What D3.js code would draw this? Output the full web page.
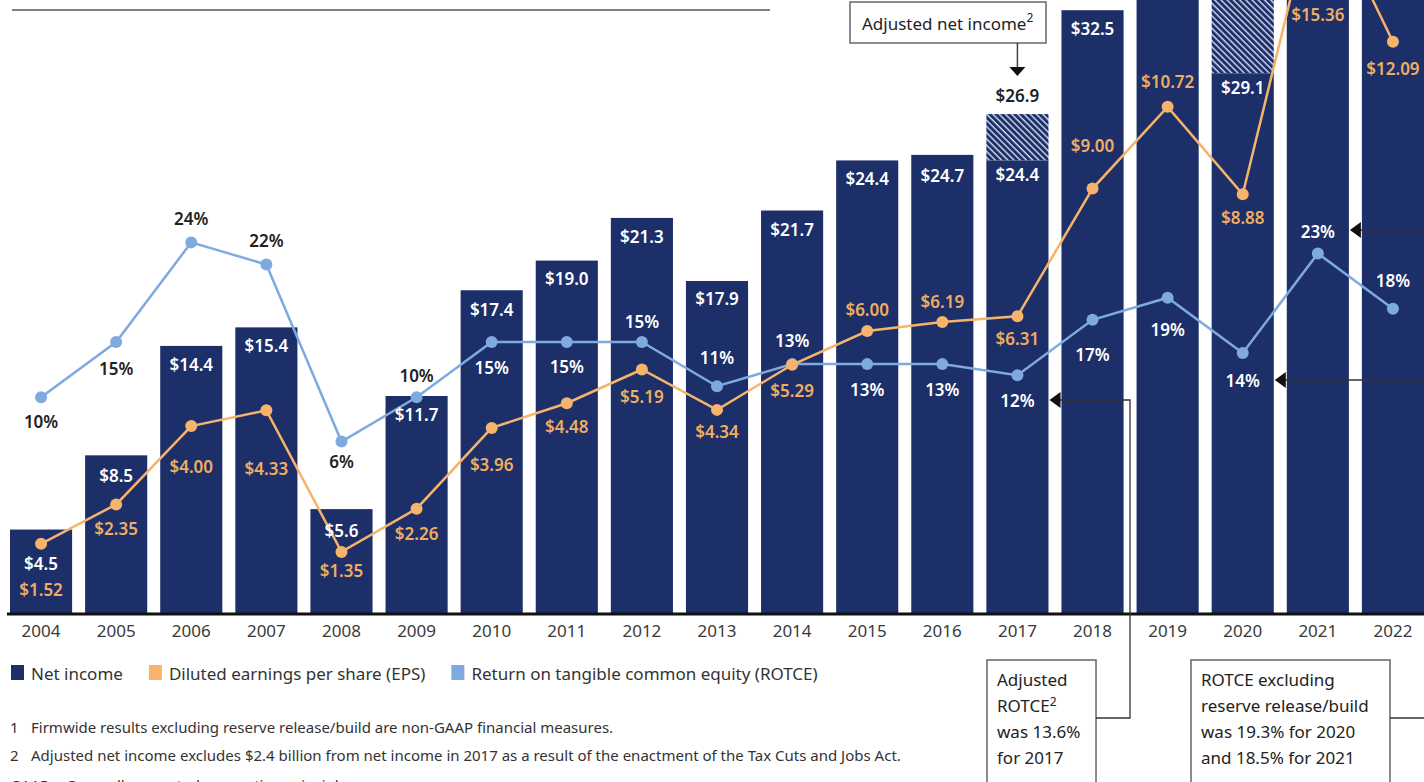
<!DOCTYPE html>
<html>
<head>
<meta charset="utf-8">
<script src="https://cdn.jsdelivr.net/npm/d3@7"></script>
<style>
    body { margin: 0; background: #fff; }
    text { font-family: "Noto Sans", sans-serif; }
</style>
</head>
<body>
<div id="chart"></div>
<script>
// data
const years = ["2004", "2005", "2006", "2007", "2008", "2009", "2010", "2011", "2012", "2013",
    "2014", "2015", "2016", "2017", "2018", "2019", "2020", "2021", "2022"];
const netIncome = [4.5, 8.5, 14.4, 15.4, 5.6, 11.7, 17.4, 19.0, 21.3, 17.9,
    21.7, 24.4, 24.7, 24.4, 32.5, 36.4, 29.1, 48.3, 37.7];
// hatched part: adjusted net income (2017) / excluding reserve build (2020)
const adjustedNetIncome = [null, null, null, null, null, null, null, null, null, null,
    null, null, null, 26.9, null, null, 36.0, null, null];
const eps = [1.52, 2.35, 4.00, 4.33, 1.35, 2.26, 3.96, 4.48, 5.19, 4.34,
    5.29, 6.00, 6.19, 6.31, 9.00, 10.72, 8.88, 15.36, 12.09];
const rotce = [10, 15, 24, 22, 6, 10, 15, 15, 15, 11, 13, 13, 13, 12, 17, 19, 14, 23, 18];

const legendItems = ["Net income", "Diluted earnings per share (EPS)", "Return on tangible common equity (ROTCE)"];

// label nudges (layout only, px from the mark)
const niLabelDy = [34, 20, 19, 18, 21, 19, 19, 18, 19, 18, 19, 18, 21, 14, 18, 19, 14, 19, 19];
const epsLabelDy = [46, 24, 40, 58, 19, 25, 37, 23, 27, 22, 26, -22, -21, 22, -43, -25, 23, 128, 27];
const rotceLabelDy = [24, 27, -24, -24, 20, -22, 26, 25, -20, -29, -24, 25, 25, 25, 35, 32, 27, -22, -28];

// colours
const navy = "#1c2f68";
const orange = "#f6b36c";
const blue = "#7eaadf";

const width = 1424, height = 782;

const svg = d3.select("#chart")
    .append("svg")
    .attr("width", width)
    .attr("height", height)
    .style("display", "block");

// hatch pattern
svg.append("defs").append("pattern")
    .attr("id", "hatch")
    .attr("patternUnits", "userSpaceOnUse")
    .attr("width", 4.4)
    .attr("height", 4.4)
    .attr("patternTransform", "rotate(-45)")
    .call(p => {
        p.append("rect").attr("width", 4.4).attr("height", 4.4).attr("fill", navy);
        p.append("line").attr("x1", 1).attr("x2", 1).attr("y1", 0).attr("y2", 4.4)
            .attr("stroke", "#c9d1e6").attr("stroke-width", 1.5);
    });

// scales
const x = d3.scaleBand()
    .domain(years)
    .range([10, 1424])
    .paddingInner(0.173)
    .paddingOuter(0);

const yNI = d3.scaleLinear().domain([0, 33.05]).range([613, 0]);
const yEPS = d3.scaleLinear().domain([0, 12.97]).range([616, 0]);
const yROTCE = d3.scaleLinear().domain([0, 45.9]).range([508, 0]);

const data = years.map((year, i) => ({
    year: year,
    ni: netIncome[i],
    adj: adjustedNetIncome[i],
    eps: eps[i],
    rotce: rotce[i],
    i: i
}));

const cx = d => x(d.year) + x.bandwidth() / 2;
// the picture is cropped at the top: skip labels that fall above it
const visible = y => y > 8;

// top rule
svg.append("line")
    .attr("x1", 12).attr("x2", 770)
    .attr("y1", 10).attr("y2", 10)
    .attr("stroke", "#555")
    .attr("stroke-width", 1.5);

// hatched (adjusted) parts
svg.selectAll(".hatch")
    .data(data.filter(d => d.adj !== null))
    .enter()
    .append("rect")
    .attr("class", "hatch")
    .attr("x", d => x(d.year))
    .attr("width", x.bandwidth())
    .attr("y", d => yNI(d.adj))
    .attr("height", d => yNI(d.ni) - yNI(d.adj))
    .attr("fill", "url(#hatch)");

// bars
svg.selectAll(".bar")
    .data(data)
    .enter()
    .append("rect")
    .attr("class", "bar")
    .attr("x", d => x(d.year))
    .attr("width", x.bandwidth())
    .attr("y", d => yNI(d.ni))
    .attr("height", d => yNI(0) - yNI(d.ni))
    .attr("fill", navy);

// x axis
const xAxis = svg.append("g")
    .attr("transform", "translate(0,614)")
    .call(d3.axisBottom(x).tickSize(0).tickSizeOuter(0));
xAxis.select(".domain")
    .attr("stroke", "#111")
    .attr("stroke-width", 3)
    .attr("d", "M7,0H1424");
xAxis.selectAll("text")
    .attr("y", 17)
    .attr("dy", "0.35em")
    .attr("font-family", "Noto Sans, sans-serif")
    .attr("font-size", "17px")
    .attr("fill", "#3a3a3a");

// lines
const rotceLine = d3.line().x(cx).y(d => yROTCE(d.rotce));
const epsLine = d3.line().x(cx).y(d => yEPS(d.eps));

svg.append("path")
    .datum(data)
    .attr("d", rotceLine)
    .attr("fill", "none")
    .attr("stroke", blue)
    .attr("stroke-width", 2.5);

svg.selectAll(".rotce_dot")
    .data(data)
    .enter()
    .append("circle")
    .attr("class", "rotce_dot")
    .attr("cx", cx)
    .attr("cy", d => yROTCE(d.rotce))
    .attr("r", 6)
    .attr("fill", blue);

svg.append("path")
    .datum(data)
    .attr("d", epsLine)
    .attr("fill", "none")
    .attr("stroke", orange)
    .attr("stroke-width", 2.5);

svg.selectAll(".eps_dot")
    .data(data)
    .enter()
    .append("circle")
    .attr("class", "eps_dot")
    .attr("cx", cx)
    .attr("cy", d => yEPS(d.eps))
    .attr("r", 6)
    .attr("fill", orange);

// labels
const labelFont = g => g
    .attr("text-anchor", "middle")
    .attr("dominant-baseline", "central")
    .attr("font-size", "17px")
    .attr("font-weight", 600);

svg.selectAll(".ni_label")
    .data(data.filter(d => visible(yNI(d.ni) + niLabelDy[d.i])))
    .enter()
    .append("text")
    .attr("class", "ni_label")
    .attr("x", cx)
    .attr("y", d => yNI(d.ni) + niLabelDy[d.i])
    .attr("fill", "#fff")
    .call(labelFont)
    .text(d => "$" + d.ni.toFixed(1));

svg.selectAll(".eps_label")
    .data(data.filter(d => visible(yEPS(d.eps) + epsLabelDy[d.i])))
    .enter()
    .append("text")
    .attr("class", "eps_label")
    .attr("x", cx)
    .attr("y", d => yEPS(d.eps) + epsLabelDy[d.i])
    .attr("fill", "#f0ad62")
    .call(labelFont)
    .text(d => "$" + d.eps.toFixed(2));

svg.selectAll(".rotce_label")
    .data(data.filter(d => visible(yROTCE(d.rotce) + rotceLabelDy[d.i])))
    .enter()
    .append("text")
    .attr("class", "rotce_label")
    .attr("x", cx)
    .attr("y", d => yROTCE(d.rotce) + rotceLabelDy[d.i])
    .attr("fill", d => {
        const top = yNI(d.adj !== null ? Math.max(d.adj, d.ni) : d.ni);
        return yROTCE(d.rotce) + rotceLabelDy[d.i] > top + 4 ? "#fff" : "#222";
    })
    .call(labelFont)
    .text(d => d.rotce + "%");

// adjusted 2017 label + callout
const d17 = data[years.indexOf("2017")];
svg.append("text")
    .attr("x", cx(d17))
    .attr("y", yNI(d17.adj) - 19)
    .attr("fill", "#222")
    .call(labelFont)
    .text("$" + d17.adj.toFixed(1));

svg.append("rect")
    .attr("x", 850).attr("y", 2)
    .attr("width", 196).attr("height", 41)
    .attr("fill", "#fff")
    .attr("stroke", "#666")
    .attr("stroke-width", 1.5);

svg.append("text")
    .attr("x", 862).attr("y", 23)
    .attr("dominant-baseline", "central")
    .attr("font-size", "17px")
    .attr("fill", "#222")
    .text("Adjusted net income")
    .append("tspan")
    .attr("dy", -6)
    .attr("font-size", "12px")
    .text("2");

svg.append("line")
    .attr("x1", cx(d17)).attr("x2", cx(d17))
    .attr("y1", 43).attr("y2", 67)
    .attr("stroke", "#444").attr("stroke-width", 1.5);
svg.append("path")
    .attr("d", `M${cx(d17) - 8},67 L${cx(d17) + 8},67 L${cx(d17)},76 Z`)
    .attr("fill", "#111");

// bottom-right callout boxes
const boxText = (x0, lines, sup) => {
    const t = svg.append("text")
        .attr("font-size", "17px")
        .attr("fill", "#222");
    lines.forEach((line, k) => {
        t.append("tspan")
            .attr("x", x0)
            .attr("y", 686 + k * 26)
            .text(line);
        if (sup === k) {
            t.append("tspan").attr("dy", -6).attr("font-size", "12px").text("2");
        }
    });
};

svg.append("rect")
    .attr("x", 987).attr("y", 660)
    .attr("width", 109).attr("height", 140)
    .attr("fill", "#fff")
    .attr("stroke", "#666")
    .attr("stroke-width", 1.5);
boxText(997, ["Adjusted", "ROTCE", "was 13.6%", "for 2017"], 1);

svg.append("rect")
    .attr("x", 1191).attr("y", 660)
    .attr("width", 199).attr("height", 140)
    .attr("fill", "#fff")
    .attr("stroke", "#666")
    .attr("stroke-width", 1.5);
boxText(1201, ["ROTCE excluding", "reserve release/build", "was 19.3% for 2020", "and 18.5% for 2021"], null);

// connectors
const barRight = yr => x(yr) + x.bandwidth();
const arrowLeft = (tipX, y) => svg.append("path")
    .attr("d", `M${tipX},${y} L${tipX + 11},${y - 8} L${tipX + 11},${y + 8} Z`)
    .attr("fill", "#111");

svg.append("path")
    .attr("d", `M1096,718 H1130 V400 H${barRight("2017") + 10}`)
    .attr("fill", "none")
    .attr("stroke", "#333")
    .attr("stroke-width", 1.3);
arrowLeft(barRight("2017") + 1, 400);

svg.append("path")
    .attr("d", `M1390,718 H1430 V230 H${barRight("2021") + 10} M1430,380 H${barRight("2020") + 10}`)
    .attr("fill", "none")
    .attr("stroke", "#333")
    .attr("stroke-width", 1.3);
arrowLeft(barRight("2020") + 1, 380);
arrowLeft(barRight("2021") + 1, 230);

// legend
const legendColors = [navy, orange, blue];
let lx = 11;
legendItems.forEach((item, k) => {
    svg.append("rect")
        .attr("x", lx).attr("y", 665)
        .attr("width", 13).attr("height", 15)
        .attr("fill", legendColors[k]);
    const t = svg.append("text")
        .attr("x", lx + 20).attr("y", 673)
        .attr("dominant-baseline", "central")
        .attr("font-size", "17px")
        .attr("fill", "#333")
        .text(item);
    lx += 20 + t.node().getComputedTextLength() + 26;
});

// footnotes
const notes = [
    ["1", "Firmwide results excluding reserve release/build are non-GAAP financial measures."],
    ["2", "Adjusted net income excludes $2.4 billion from net income in 2017 as a result of the enactment of the Tax Cuts and Jobs Act."]
];
notes.forEach((n, k) => {
    svg.append("text")
        .attr("x", 10).attr("y", 727 + k * 28)
        .attr("dominant-baseline", "central")
        .attr("font-size", "15px")
        .attr("fill", "#333")
        .text(n[0]);
    svg.append("text")
        .attr("x", 31).attr("y", 727 + k * 28)
        .attr("dominant-baseline", "central")
        .attr("font-size", "15px")
        .attr("fill", "#333")
        .text(n[1]);
});
svg.append("text")
    .attr("x", 10).attr("y", 785)
    .attr("dominant-baseline", "central")
    .attr("font-size", "15px")
    .attr("fill", "#333")
    .text("GAAP = Generally accepted accounting principles");
</script>
</body>
</html>
